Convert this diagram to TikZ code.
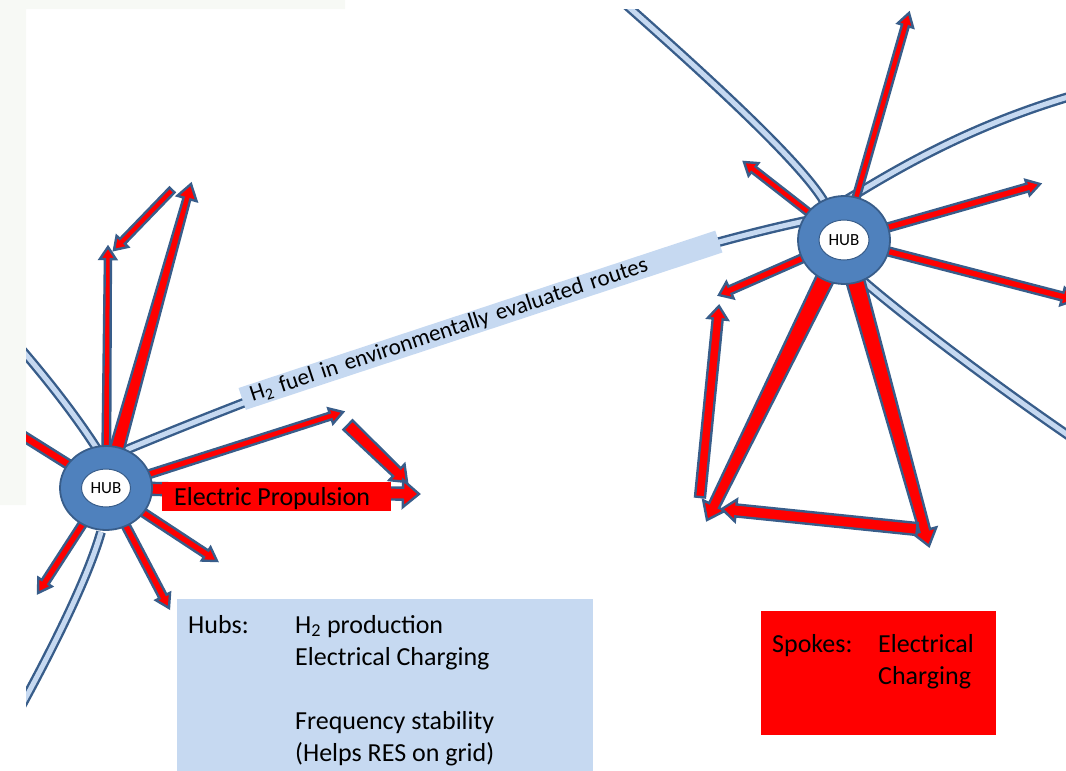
\documentclass[tikz,border=0pt]{standalone}
\usepackage{fontspec}
\setmainfont{Carlito}
\usetikzlibrary{calc,shapes.geometric}
\definecolor{outl}{RGB}{56,93,138}
\definecolor{hubblue}{RGB}{79,129,189}
\definecolor{pale}{RGB}{198,217,241}
\definecolor{faint}{RGB}{247,249,245}
\tikzset{
  spoke/.style={fill=red, draw=outl, line width=2.4pt, line join=miter},
  route/.style={draw=outl, line width=2.4pt, double=pale, double distance=5pt},
  hubout/.style={ellipse, fill=hubblue, draw=outl, line width=1.8pt, inner sep=0pt},
  hubin/.style={ellipse, fill=white, draw=outl, line width=1pt, inner sep=0pt, font=\fontsize{17}{20}\selectfont},
  txt/.style={inner sep=0pt, font=\fontsize{26}{32}\selectfont},
  boxnode/.style={inner sep=0pt, anchor=north west},
}
% block arrow: from, to, start width, end width, head half-width, head length
\newcommand\spokearrow[6]{%
  \filldraw[spoke] let \p1=(#1), \p2=(#2),
    \n1={atan2(\y2-\y1,\x2-\x1)}, \n2={veclen(\x2-\x1,\y2-\y1)-#6} in
    ($(\p1)+({\n1+90}:{#3*0.5pt})$)
    -- ($(\p1)+({\n1}:{\n2*1pt})+({\n1+90}:{#4*0.5pt})$)
    -- ($(\p1)+({\n1}:{\n2*1pt})+({\n1+90}:{#5*1pt})$)
    -- (\p2)
    -- ($(\p1)+({\n1}:{\n2*1pt})+({\n1-90}:{#5*1pt})$)
    -- ($(\p1)+({\n1}:{\n2*1pt})+({\n1-90}:{#4*0.5pt})$)
    -- ($(\p1)+({\n1-90}:{#3*0.5pt})$) -- cycle;}
\begin{document}
\begin{tikzpicture}[x=1pt,y=-1pt]
\useasboundingbox (0,0) rectangle (1066,771);
\fill[faint] (0,0) -- (345,0) -- (345,9) -- (26,9) -- (26,505) -- (0,505) -- cycle;
\begin{scope}
\clip (26,9) rectangle (1066,771);
% hub centres
\coordinate (LH) at (106,488);
\coordinate (RH) at (844,240);
% ---------- pale routes ----------
\coordinate (La0) at (99,452);   \coordinate (La1) at (15,342);
\coordinate (Lc0) at (101,532);  \coordinate (Lc1) at (18,712);
\coordinate (M0) at (121,452);   \coordinate (M1) at (810,220);
\coordinate (Ra0) at (826,205);  \coordinate (Ra1) at (615,-5);
\coordinate (Rb0) at (846,200);  \coordinate (Rb1) at (1075,95);
\coordinate (Rc0) at (860,278);  \coordinate (Rc1) at (1075,440);
\draw[route] (La0) .. controls (82,425) and (55,388) .. (La1);
\draw[route] (Lc0) .. controls (88,578) and (52,650) .. (Lc1);
\draw[route] (M0) .. controls (330,365) and (640,255) .. (M1);
\draw[route] (Ra0) .. controls (805,165) and (700,70) .. (Ra1);
\draw[route] (Rb0) .. controls (880,180) and (960,128) .. (Rb1);
\draw[route] (Rc0) .. controls (890,305) and (980,375) .. (Rc1);
\node[fill=pale, rotate=18.27, anchor=west, inner xsep=9pt, inner ysep=0pt,
      minimum height=23pt, text width=484pt, align=left,
      font=\fontsize{23}{26}\selectfont] (band) at (242,399)
      {H\textsubscript{2} fuel in environmentally evaluated routes};
% ---------- left hub spokes ----------
\coordinate (s1) at (191,184);
\coordinate (s2) at (108,247);
\coordinate (s3a) at (172,190);  \coordinate (s3) at (114,250);
\coordinate (s4) at (343,412);
\coordinate (s5a) at (348,425);  \coordinate (s5) at (407,482);
\coordinate (s6) at (419,494);
\coordinate (s7) at (217,561);
\coordinate (s8) at (169,608);
\coordinate (s9) at (38,593);
\coordinate (s10) at (4,424);
\spokearrow{LH}{s1}{15}{7}{10}{15}
\spokearrow{LH}{s2}{8}{6}{8}{12}
\spokearrow{s3a}{s3}{7}{7}{8}{12}
\spokearrow{LH}{s4}{8}{7}{8}{13}
\spokearrow{s5a}{s5}{13}{11}{11}{14}
\spokearrow{LH}{s6}{12}{12}{13.5}{16}
\spokearrow{LH}{s7}{8}{8}{8}{13}
\spokearrow{LH}{s8}{8}{8}{8}{13}
\spokearrow{LH}{s9}{8}{8}{8}{13}
\spokearrow{LH}{s10}{9}{9}{9}{13}
% ---------- right hub spokes ----------
\coordinate (r1) at (909,13);
\coordinate (r2) at (744,162);
\coordinate (r3) at (1040,184);
\coordinate (r4) at (1076,300);
\coordinate (r5) at (719,295);
\coordinate (r6) at (707,520);
\coordinate (r7) at (929,546);
\coordinate (r8a) at (917,529); \coordinate (r8) at (722,509);
\coordinate (r9a) at (700,497); \coordinate (r9) at (719,306);
\spokearrow{RH}{r1}{7}{7}{8}{13}
\spokearrow{RH}{r2}{7}{7}{8}{12}
\spokearrow{RH}{r3}{8}{8}{8}{13}
\spokearrow{RH}{r4}{8}{8}{9}{14}
\spokearrow{RH}{r5}{8}{8}{9}{12}
\spokearrow{RH}{r6}{19}{11}{12}{16}
\spokearrow{RH}{r7}{19}{11}{12}{16}
\spokearrow{r8a}{r8}{12}{12}{11}{14}
\spokearrow{r9a}{r9}{10}{10}{10}{13}
% ---------- hubs ----------
\node[hubout, minimum width=92pt, minimum height=84pt] (LHo) at (LH) {};
\node[hubin, minimum width=49pt, minimum height=38pt] (LHi) at (LH) {HUB};
\node[hubout, minimum width=92pt, minimum height=88pt] (RHo) at (RH) {};
\node[hubin, minimum width=50pt, minimum height=40pt] (RHi) at (RH) {HUB};
% ---------- labels ----------
\node[boxnode, fill=red, minimum width=229pt, minimum height=29pt] (epbox) at (162,482) {};
\node[txt, anchor=base west] (ep) at (174,505) {Electric Propulsion};
\node[boxnode, fill=pale, minimum width=416pt, minimum height=180pt] (hubbox) at (177,599) {};
\node[txt, anchor=base west] (hubs) at (188,633) {Hubs:};
\node[txt, anchor=base west] (h1) at (295,633) {H\textsubscript{2} production};
\node[txt, anchor=base west] (h2) at (295,665) {Electrical Charging};
\node[txt, anchor=base west] (h3) at (295,729) {Frequency stability};
\node[txt, anchor=base west] (h4) at (295,761) {(Helps RES on grid)};
\node[boxnode, fill=red, minimum width=235pt, minimum height=124pt] (spbox) at (761,611) {};
\node[txt, anchor=base west] (sp) at (772,652) {Spokes:};
\node[txt, anchor=base west] (sp1) at (878,652) {Electrical};
\node[txt, anchor=base west] (sp2) at (878,684) {Charging};
\end{scope}
\end{tikzpicture}
\end{document}
